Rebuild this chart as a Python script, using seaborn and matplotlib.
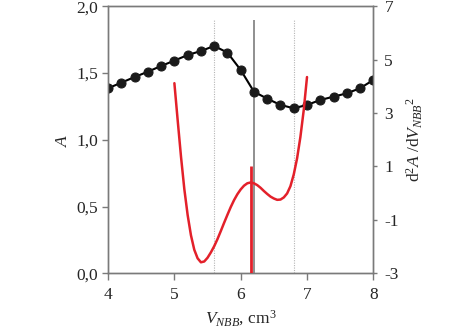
import numpy as np
import pandas as pd
import matplotlib
matplotlib.use("Agg")
import matplotlib.pyplot as plt
import seaborn as sns
from matplotlib.ticker import FuncFormatter

# ---- data ----
v_abs = [4.0, 4.2, 4.4, 4.6, 4.8, 5.0, 5.2, 5.4, 5.6, 5.8, 6.0,
         6.2, 6.4, 6.6, 6.8, 7.0, 7.2, 7.4, 7.6, 7.8, 8.0]
absorb = [1.386, 1.428, 1.470, 1.510, 1.553, 1.593, 1.635, 1.665, 1.703, 1.653, 1.523,
          1.360, 1.308, 1.261, 1.236, 1.261, 1.298, 1.323, 1.348, 1.386, 1.448]

v_d2 = [5.00, 5.05, 5.10, 5.15, 5.20, 5.25, 5.30, 5.35, 5.40, 5.45, 5.50,
        5.55, 5.60, 5.65, 5.70, 5.75, 5.80, 5.85, 5.90, 5.95, 6.00,
        6.05, 6.10, 6.15, 6.20, 6.25, 6.30, 6.35, 6.40, 6.45, 6.50,
        6.55, 6.60, 6.65, 6.70, 6.75, 6.80, 6.85, 6.90, 6.95, 7.00]
d2 = [4.12, 2.72, 1.36, 0.15, -0.82, -1.58, -2.12, -2.44, -2.59, -2.56, -2.42,
      -2.22, -1.99, -1.72, -1.42, -1.11, -0.81, -0.52, -0.26, -0.04, 0.14,
      0.28, 0.37, 0.40, 0.37, 0.30, 0.20, 0.08, -0.03, -0.13, -0.20,
      -0.25, -0.24, -0.16, -0.01, 0.26, 0.70, 1.30, 2.10, 3.10, 4.35]

equiv_x = 6.2            # solid grey marker line
dotted_x = [5.6, 6.8]    # dotted grey marker lines
marker_top = 1.90        # top of grey lines (A units)
red_peak_x = 6.15        # red vertical line position
red_peak_top = 1.0       # its top (right-axis units)

x_ticks = [4, 5, 6, 7, 8]
left_ticks = [0.0, 0.5, 1.0, 1.5, 2.0]
right_ticks = [-3, -1, 1, 3, 5, 7]

# ---- style ----
sns.set_style("ticks")
plt.rcParams["font.family"] = ["Liberation Serif", "DejaVu Serif"]
plt.rcParams["mathtext.fontset"] = "custom"
plt.rcParams["mathtext.rm"] = "Liberation Serif"
plt.rcParams["mathtext.it"] = "Liberation Serif:italic"
plt.rcParams["font.size"] = 12.5

fs = 12.5
spine_col = "#7a7a7a"
red = "#e3202a"

fig = plt.figure(figsize=(4.74, 3.32), dpi=100)
ax = fig.add_axes([0.228, 0.177, 0.5596, 0.804])
ax2 = ax.twinx()

df_a = pd.DataFrame({"V": v_abs, "A": absorb})
df_d = pd.DataFrame({"V": v_d2, "d2": d2})

# grey reference lines (behind the points)
ax.vlines(dotted_x, 0, marker_top, colors="#b5b5b5", linestyles=(0, (1, 1.2)),
          linewidth=0.8, zorder=1)
ax.vlines([equiv_x], 0, marker_top, colors="#8f8f8f", linewidth=1.4, zorder=1)

sns.lineplot(data=df_a, x="V", y="A", ax=ax, color="black", linewidth=1.5,
             marker="o", markersize=6.5, markeredgecolor="#1a1a1a",
             markerfacecolor="#1a1a1a", zorder=3)

sns.lineplot(data=df_d, x="V", y="d2", ax=ax2, color=red, linewidth=1.8, zorder=4)
ax2.lines[-1].set_solid_joinstyle("round")
ax2.vlines([red_peak_x], -3, red_peak_top, colors=red, linewidth=2.0, zorder=4)

# axes limits / ticks
ax.set_xlim(4, 8)
ax.set_ylim(0, 2)
ax2.set_ylim(-3, 7)
ax.set_xticks(x_ticks)
ax.set_yticks(left_ticks)
ax2.set_yticks(right_ticks)
ax.yaxis.set_major_formatter(FuncFormatter(lambda v, p: f"{v:.1f}".replace(".", ",")))
ax2.yaxis.set_major_formatter(FuncFormatter(lambda v, p: f"{int(v)}"))

for a in (ax, ax2):
    for s in a.spines.values():
        s.set_color(spine_col)
        s.set_linewidth(1.0)
        s.set_visible(True)

ax.tick_params(axis="y", direction="out", length=4, width=1, color=spine_col,
               labelsize=fs, pad=3)
ax.tick_params(axis="x", direction="out", length=5, width=1, color=spine_col,
               labelsize=fs, pad=5)
ax2.tick_params(axis="y", direction="out", length=3, width=1, color=spine_col,
                labelsize=fs, pad=5)

ax.set_xlabel(r"$V_{NBB}$, cm$^3$", fontsize=fs, labelpad=4)
ax.set_ylabel(r"$A$", fontsize=fs, labelpad=4)
ax2.set_ylabel(r"d$^2$$A$ /d$V_{NBB}$$^2$", fontsize=fs, labelpad=4)

fig.savefig("out.png", dpi=100)
